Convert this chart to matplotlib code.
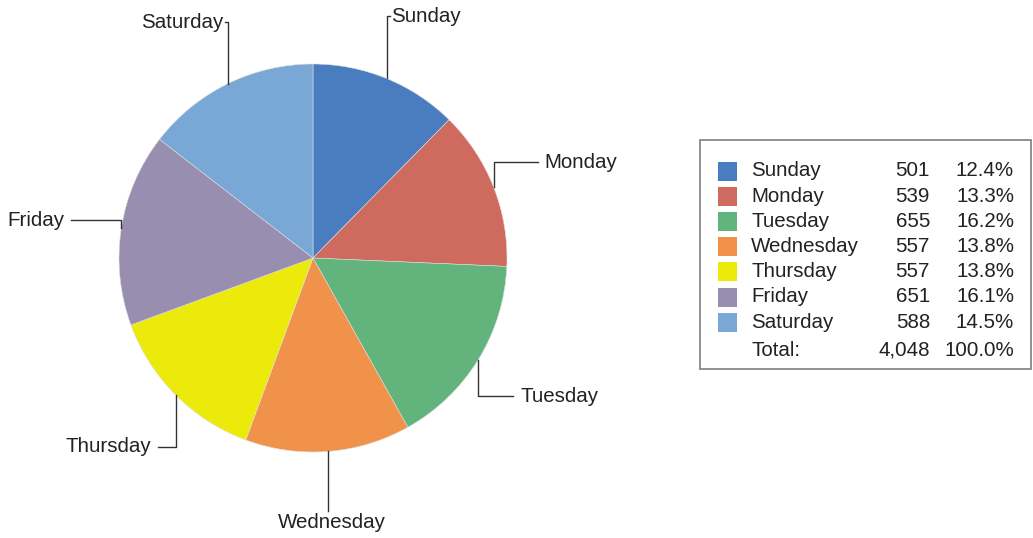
import matplotlib.pyplot as plt
from matplotlib.patches import Rectangle
import numpy as np

plt.rcParams['font.family'] = ['Liberation Sans', 'DejaVu Sans']

days = ["Sunday", "Monday", "Tuesday", "Wednesday", "Thursday", "Friday", "Saturday"]
counts = [501, 539, 655, 557, 557, 651, 588]
colors = ['#4a7cc0', '#cf6a5f', '#62b47c', '#f0924a', '#ecea0a', '#978eb0', '#79a7d6']

W, H = 1033, 538
fig = plt.figure(figsize=(W / 100, H / 100), dpi=100)
ax = fig.add_axes([0, 0, 1, 1])

# pie geometry in pixel units (y measured from the bottom)
cx, cy, r = 313, H - 258, 194
total = sum(counts)

ax.pie(counts, colors=colors, startangle=90, counterclock=False,
       center=(cx, cy), radius=r,
       wedgeprops=dict(edgecolor='#dddddd', linewidth=0.4))

# label layout: y of label (from top), horizontal leader length
label_y = [16, 162, 396, 522, 447, 220, 22]
hlen = [3, 44, 35, 0, -18, -50, -3]
fs = 14.8
tc = '#222222'

cum = np.cumsum([0] + counts[:-1])
for i, day in enumerate(days):
    frac = (cum[i] + counts[i] / 2) / total
    ang = np.deg2rad(90 - 360 * frac)
    ex = cx + r * np.cos(ang)
    ey = cy + r * np.sin(ang)
    ly = H - label_y[i]
    if hlen[i] == 0:
        ax.plot([ex, ex], [ey, ly + 11], color='#333333', lw=1)
        ax.text(ex + 4, ly, day, ha='center', va='center', fontsize=fs, color=tc)
    else:
        ax.plot([ex, ex, ex + hlen[i]], [ey, ly, ly], color='#333333', lw=1)
        gap = 7 if abs(hlen[i]) > 5 else 1
        tx = ex + hlen[i] + (gap if hlen[i] > 0 else -gap)
        ax.text(tx, ly, day, ha='left' if hlen[i] > 0 else 'right', va='center',
                fontsize=fs, color=tc)

# legend table
ax.add_patch(Rectangle((700, H - 369), 331, 229, facecolor='white',
                       edgecolor='#888888', lw=1.3))
row0, step = 171, 25.2
for i, day in enumerate(days):
    y = H - (row0 + i * step)
    ax.add_patch(Rectangle((718, y - 9.5), 19, 19, facecolor=colors[i], edgecolor='none'))
    ax.text(751, y, day, ha='left', va='center', fontsize=fs, color=tc)
    ax.text(930, y, f"{counts[i]:,}", ha='right', va='center', fontsize=fs, color=tc)
    ax.text(1014, y, f"{100 * counts[i] / total:.1f}%", ha='right', va='center',
            fontsize=fs, color=tc)
y = H - 350
ax.text(751, y, "Total:", ha='left', va='center', fontsize=fs, color=tc)
ax.text(930, y, f"{total:,}", ha='right', va='center', fontsize=fs, color=tc)
ax.text(1014, y, "100.0%", ha='right', va='center', fontsize=fs, color=tc)

ax.set_xlim(0, W)
ax.set_ylim(0, H)
ax.set_aspect('auto')
ax.axis('off')

fig.savefig('out.png', dpi=100)
